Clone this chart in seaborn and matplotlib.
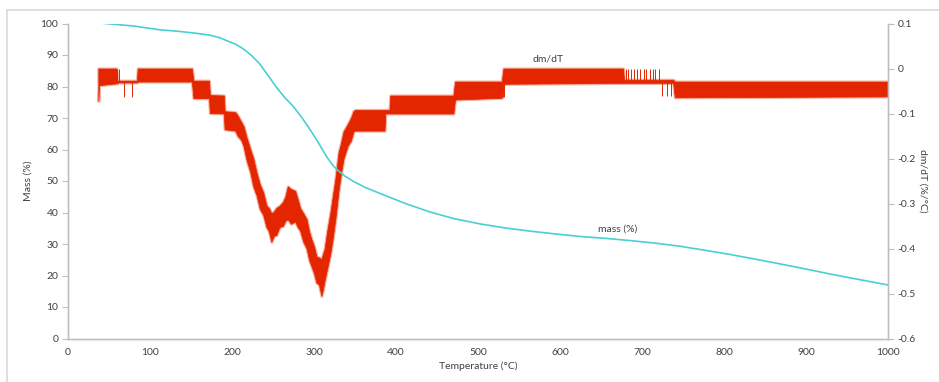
import matplotlib
matplotlib.use("Agg")
import matplotlib.pyplot as plt
import seaborn as sns
import pandas as pd
from matplotlib.lines import Line2D

# ---- data ----
mass_T = [37, 80, 112, 135, 153, 173, 185, 193, 204, 214, 224, 234, 244, 254, 264,
          275, 285, 295, 305, 315, 322, 328, 338, 348, 362, 380, 410, 441, 470, 502,
          533, 563, 594, 624, 655, 685, 715, 746, 777, 807, 838, 868, 899, 929, 965, 1000]
mass_pct = [100.2, 99.2, 98.0, 97.5, 97.0, 96.3, 95.5, 94.6, 93.5, 91.9, 89.8, 87.1,
            83.5, 79.8, 76.6, 73.6, 70.2, 66.4, 62.3, 57.9, 55.3, 53.6, 51.5, 49.9,
            48.0, 46.1, 43.0, 40.2, 38.1, 36.4, 35.1, 34.1, 33.2, 32.4, 31.8, 31.1,
            30.3, 29.3, 28.0, 26.7, 25.2, 23.7, 22.1, 20.5, 18.7, 17.0]

# dm/dT noisy band: temperature, lower and upper envelope (%/°C)
dmdt_T = [37, 38, 59, 60, 61, 84, 85, 151, 153, 172, 173, 190, 191, 204, 207, 211,
          214, 218, 222, 226, 230, 234, 238, 242, 245, 248, 251, 254, 258, 262, 265,
          268, 272, 277, 280, 283, 287, 291, 294, 297, 300, 303, 306, 309, 311, 313,
          316, 320, 323, 326, 330, 333, 336, 341, 345, 348, 350, 386, 387, 392, 393,
          470, 472, 529, 531, 677, 678, 738, 740, 1000]
dmdt_lo = [-0.072, -0.037, -0.033, -0.033, -0.031, -0.031, -0.029, -0.029, -0.066,
           -0.066, -0.099, -0.100, -0.135, -0.138, -0.150, -0.158, -0.172, -0.205,
           -0.228, -0.262, -0.282, -0.312, -0.325, -0.352, -0.362, -0.385, -0.372,
           -0.370, -0.352, -0.350, -0.338, -0.335, -0.345, -0.340, -0.352, -0.360,
           -0.385, -0.400, -0.425, -0.440, -0.455, -0.476, -0.480, -0.505, -0.490,
           -0.470, -0.445, -0.410, -0.375, -0.335, -0.270, -0.232, -0.200, -0.172,
           -0.160, -0.140, -0.138, -0.138, -0.100, -0.100, -0.100, -0.100, -0.069,
           -0.065, -0.034, -0.032, -0.032, -0.032, -0.064, -0.062]
dmdt_hi = [0.0, 0.0, 0.0, -0.027, -0.027, -0.027, 0.0, 0.0, -0.027, -0.027, -0.059,
           -0.060, -0.095, -0.097, -0.105, -0.118, -0.128, -0.155, -0.178, -0.200,
           -0.232, -0.258, -0.275, -0.305, -0.310, -0.322, -0.318, -0.310, -0.305,
           -0.297, -0.285, -0.262, -0.268, -0.272, -0.290, -0.310, -0.322, -0.335,
           -0.362, -0.380, -0.395, -0.418, -0.420, -0.424, -0.412, -0.400, -0.362,
           -0.320, -0.282, -0.246, -0.186, -0.165, -0.140, -0.124, -0.110, -0.095,
           -0.092, -0.092, -0.092, -0.092, -0.060, -0.060, -0.029, -0.029, 0.0, 0.0,
           -0.025, -0.025, -0.029, -0.029]

# isolated vertical flicker lines (temperature, bottom, top)
spike_T = [60, 62, 68, 78, 530, 532, 680, 683, 686, 690, 694, 698, 702, 705, 710,
           713, 716, 721, 724, 731, 735]
spike_lo = [-0.03, -0.03, -0.064, -0.064, -0.063, -0.063, -0.03, -0.03, -0.03, -0.03,
            -0.03, -0.03, -0.03, -0.03, -0.03, -0.03, -0.03, -0.03, -0.061, -0.06, -0.06]
spike_hi = [0.0, 0.0, -0.03, -0.03, -0.03, -0.03, 0.0, 0.0, 0.0, 0.0, 0.0, 0.0, 0.0,
            0.0, 0.0, 0.0, 0.0, 0.0, -0.03, -0.03, -0.03]

x_ticks = [0, 100, 200, 300, 400, 500, 600, 700, 800, 900, 1000]
left_ticks = [0, 10, 20, 30, 40, 50, 60, 70, 80, 90, 100]
right_ticks = [-0.6, -0.5, -0.4, -0.3, -0.2, -0.1, 0, 0.1]
right_labels = ["-0.6", "-0.5", "-0.4", "-0.3", "-0.2", "-0.1", "0", "0.1"]

RED = "#E32600"
CYAN = "#4ACFD3"
AXC = "#BFBFBF"
TXT = "#404040"

sns.set_style("white")
plt.rcParams["font.family"] = ["Lato", "DejaVu Sans"]

fig = plt.figure(figsize=(9.39, 3.82), dpi=100)
ax = fig.add_axes([68 / 939, 1 - 338.5 / 382, (888 - 68) / 939, (338.5 - 23.5) / 382])
ax2 = ax.twinx()

# figure frame (chart border)
fig.add_artist(Line2D([7 / 939, 1], [1 - 10 / 382, 1 - 10 / 382], color="#D9D9D9", lw=1.2,
                      transform=fig.transFigure))
fig.add_artist(Line2D([7 / 939, 7 / 939], [0, 1 - 10 / 382], color="#D9D9D9", lw=1.2,
                      transform=fig.transFigure))

df_m = pd.DataFrame({"T": mass_T, "mass": mass_pct})
sns.lineplot(data=df_m, x="T", y="mass", ax=ax, color=CYAN, lw=1.2, zorder=3)

# soft fringe + solid band
ax2.fill_between(dmdt_T, dmdt_lo, dmdt_hi, color="#F07A5E", lw=2.2, edgecolor="#F07A5E",
                 alpha=0.6, zorder=1)
ax2.fill_between(dmdt_T, dmdt_lo, dmdt_hi, color=RED, lw=0.5, edgecolor=RED, zorder=2)
ax2.vlines(spike_T, spike_lo, spike_hi, color=RED, lw=0.7, zorder=2)

# put mass curve on top of the band
ax.set_zorder(ax2.get_zorder() + 1)
ax.patch.set_visible(False)

ax.set_xlim(0, 1000)
ax.set_ylim(0, 100)
ax2.set_ylim(-0.6, 0.1)
ax.set_xticks(x_ticks)
ax.set_yticks(left_ticks)
ax2.set_yticks(right_ticks)
ax2.set_yticklabels(right_labels)

for a in (ax, ax2):
    for s in a.spines.values():
        s.set_color(AXC)
        s.set_linewidth(1.0)
    a.spines["top"].set_visible(False)
    a.tick_params(axis="both", which="major", direction="out", length=4, width=0.8,
                  color=AXC, labelsize=7.5, labelcolor=TXT, pad=3)
    a.grid(False)

ax.set_xlabel("Temperature (°C)", fontsize=7.5, color=TXT, labelpad=3)
ax.set_ylabel("Mass (%)", fontsize=7.5, color=TXT, labelpad=6)
ax2.set_ylabel("dm/dT (%/°C)", fontsize=7.5, color=TXT, rotation=270, labelpad=8)

ax2.text(585, 0.021, "dm/dT", fontsize=7.5, color=TXT, ha="center", va="center")
ax.text(670, 34.8, "mass (%)", fontsize=7.5, color=TXT, ha="center", va="center")

fig.savefig("out.png", dpi=100)
